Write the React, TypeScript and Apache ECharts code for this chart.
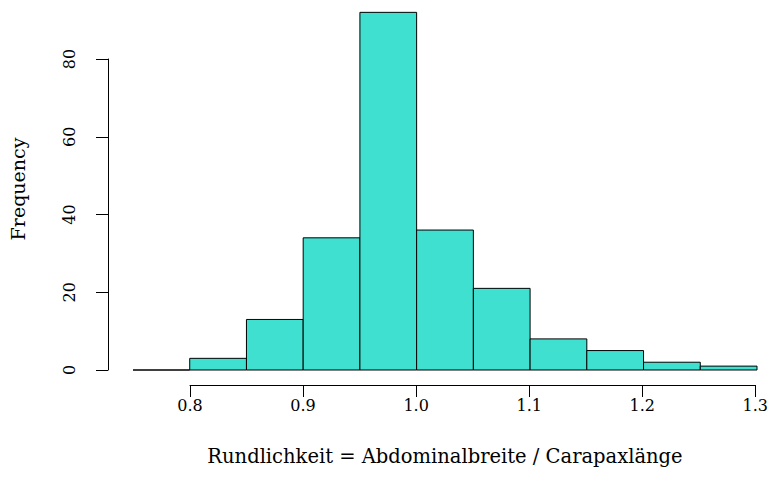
import React, { useEffect, useRef } from "react";
import * as echarts from "echarts";

const binStarts = [0.75, 0.8, 0.85, 0.9, 0.95, 1.0, 1.05, 1.1, 1.15, 1.2, 1.25];
const binWidth = 0.05;
const counts = [0, 3, 13, 34, 92, 36, 21, 8, 5, 2, 1];
const yTicks = [0, 20, 40, 60, 80];
const xTickLabels = ["0.8", "0.9", "1.0", "1.1", "1.2", "1.3"];
const xTitle = "Rundlichkeit = Abdominalbreite / Carapaxlänge";
const yTitle = "Frequency";

const FONT = "'DejaVu Serif', 'Liberation Serif', serif";

export default function App() {
  const ref = useRef<HTMLDivElement>(null);
  useEffect(() => {
    if (!ref.current) return;
    const chart = echarts.init(ref.current, null, { renderer: "svg" });
    const data = binStarts.map((s, i) => [s, s + binWidth, counts[i]]);
    chart.setOption({
      animation: false,
      backgroundColor: "#fff",
      grid: [
        { left: 133, right: 14, top: 59, bottom: 119 },
        { left: 190, right: 14, top: 59, bottom: 104 },
      ],
      graphic: [
        {
          type: "text",
          x: 18,
          y: 189,
          rotation: Math.PI / 2,
          style: {
            text: yTitle,
            fill: "#000",
            font: `19px ${FONT}`,
            align: "center",
            verticalAlign: "middle",
          },
        },
        {
          type: "text",
          x: 445,
          y: 456,
          style: {
            text: xTitle,
            fill: "#000",
            font: `19.5px ${FONT}`,
            align: "center",
            verticalAlign: "middle",
          },
        },
      ],
      xAxis: [
        {
          type: "value",
          gridIndex: 0,
          min: 0.75,
          max: 1.3,
          show: false,
        },
        {
          type: "value",
          gridIndex: 1,
          min: 0.8,
          max: 1.3,
          interval: 0.1,
          axisLine: { show: true, lineStyle: { color: "#000", width: 1 } },
          axisTick: { show: true, length: 12, lineStyle: { color: "#000" } },
          splitLine: { show: false },
          axisLabel: {
            margin: 12,
            color: "#000",
            fontFamily: FONT,
            fontSize: 16,
            formatter: (v: number) => {
              const idx = Math.round((v - 0.8) / 0.1);
              return xTickLabels[idx] ?? "";
            },
          },
        },
      ],
      yAxis: [
        {
          type: "value",
          gridIndex: 0,
          min: 0,
          max: 80,
          interval: 20,
          offset: 25,
          axisLine: { show: true, lineStyle: { color: "#000", width: 1 } },
          axisTick: { show: true, length: 12, lineStyle: { color: "#000" } },
          splitLine: { show: false },
          axisLabel: {
            rotate: 90,
            margin: 31,
            color: "#000",
            fontFamily: FONT,
            fontSize: 16,
            formatter: (v: number) => (yTicks.includes(v) ? String(v) : ""),
          },
        },
        {
          type: "value",
          gridIndex: 1,
          show: false,
        },
      ],
      series: [
        {
          type: "custom",
          xAxisIndex: 0,
          yAxisIndex: 0,
          clip: false,
          data,
          renderItem: (params: any, api: any) => {
            const lo = api.value(0);
            const hi = api.value(1);
            const c = api.value(2);
            const p1 = api.coord([lo, c]);
            const p2 = api.coord([hi, 0]);
            return {
              type: "rect",
              shape: {
                x: p1[0],
                y: p1[1],
                width: p2[0] - p1[0],
                height: p2[1] - p1[1],
              },
              style: {
                fill: "#40E0D0",
                stroke: "#000",
                lineWidth: 1,
              },
            };
          },
        },
      ],
    });
    return () => chart.dispose();
  }, []);
  return (
    <div
      ref={ref}
      style={{ position: "absolute", left: 0, top: 0, width: 771, height: 489 }}
    />
  );
}
